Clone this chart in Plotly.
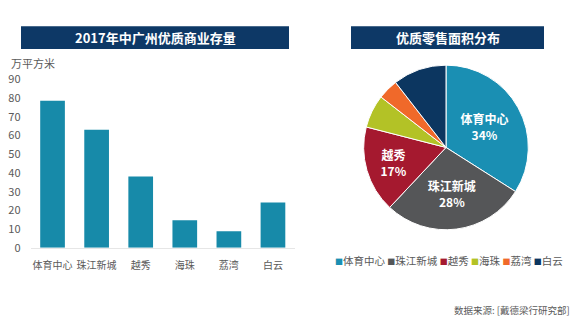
import plotly.graph_objects as go

# ---- data ----
districts = ["体育中心", "珠江新城", "越秀", "海珠", "荔湾", "白云"]
stock_values = [78.6, 63.1, 38.1, 14.8, 8.8, 24.2]          # 万平方米
retail_share = [34, 28, 17, 6.5, 4, 10.5]                    # %
pie_colors = ["#1a8fb3", "#555658", "#a5192f", "#b3c226", "#f0692a", "#0c3660"]
bar_color = "#178aa9"
y_ticks = list(range(0, 100, 10))

left_title = "2017年中广州优质商业存量"
right_title = "优质零售面积分布"
unit_label = "万平方米"
source_text = "数据来源: [戴德梁行研究部]"

FONT = "Noto Sans CJK SC"
W, H = 580, 330
GREY = "#5a5a5a"
NAVY = "#0d3866"


def px(x):
    return x / W


def py(y):
    return 1 - y / H


fig = go.Figure()

fig.add_trace(go.Bar(
    x=districts, y=stock_values, marker=dict(color=bar_color, line=dict(width=0)),
    showlegend=False, hoverinfo="x+y",
))

labels_shown = [i < 3 for i in range(len(districts))]
fig.add_trace(go.Pie(
    labels=districts, values=retail_share, sort=False, direction="clockwise",
    rotation=0,
    marker=dict(colors=pie_colors, line=dict(color="white", width=1)),
    texttemplate=["%{label}<br>%{percent:.0%}" if s else "" for s in labels_shown],
    textposition="inside", insidetextorientation="horizontal",
    textfont=dict(family=FONT, size=12, color="white", weight="bold"),
    domain=dict(x=[px(360), px(532)], y=[py(232), py(59)]),
    showlegend=False,
))

fig.update_layout(
    width=W, height=H, margin=dict(l=0, r=0, t=0, b=0),
    paper_bgcolor="white", plot_bgcolor="white",
    font=dict(family=FONT, size=11, color=GREY),
    bargap=0.44,
    xaxis=dict(domain=[px(30.5), px(295)], range=[-0.5, 5.5], showgrid=False,
               showline=True, linecolor="#e6e6e6", linewidth=1, ticks="",
               tickangle=0, ticklabelstandoff=8,
               tickfont=dict(size=10, color=GREY), fixedrange=True),
    yaxis=dict(domain=[py(251), py(74)], range=[0, 90], tickvals=y_ticks,
               showgrid=False, zeroline=False, showline=False, ticks="",
               ticklabelstandoff=9,
               tickfont=dict(size=11, color=GREY), fixedrange=True),
)

shapes = []
annotations = []
for (x0, x1, txt) in [(21, 289, left_title), (351, 544, right_title)]:
    shapes.append(dict(type="rect", xref="paper", yref="paper",
                       x0=px(x0), x1=px(x1), y0=py(42), y1=py(18),
                       fillcolor=NAVY, line=dict(width=0), layer="below"))
    annotations.append(dict(xref="paper", yref="paper", x=px((x0 + x1) / 2), y=py(30),
                            text=f"<b>{txt}</b>", showarrow=False,
                            xanchor="center", yanchor="middle",
                            font=dict(family=FONT, size=13, color="white")))

annotations.append(dict(xref="paper", yref="paper", x=px(9), y=py(57), text=unit_label,
                        showarrow=False, xanchor="left", yanchor="middle",
                        font=dict(family=FONT, size=11, color=GREY)))

legend_html = " ".join(
    f"<span style='color:{c};font-size:8px'>■</span>{n}" for n, c in zip(districts, pie_colors)
)
annotations.append(dict(xref="paper", yref="paper", x=px(449), y=py(264), text=legend_html,
                        showarrow=False, xanchor="center", yanchor="middle",
                        font=dict(family=FONT, size=10.5, color=GREY)))

annotations.append(dict(xref="paper", yref="paper", x=px(572), y=py(316), text=source_text,
                        showarrow=False, xanchor="right", yanchor="middle",
                        font=dict(family=FONT, size=9.5, color=GREY)))

fig.update_layout(shapes=shapes, annotations=annotations)

fig.write_html("out.html")
